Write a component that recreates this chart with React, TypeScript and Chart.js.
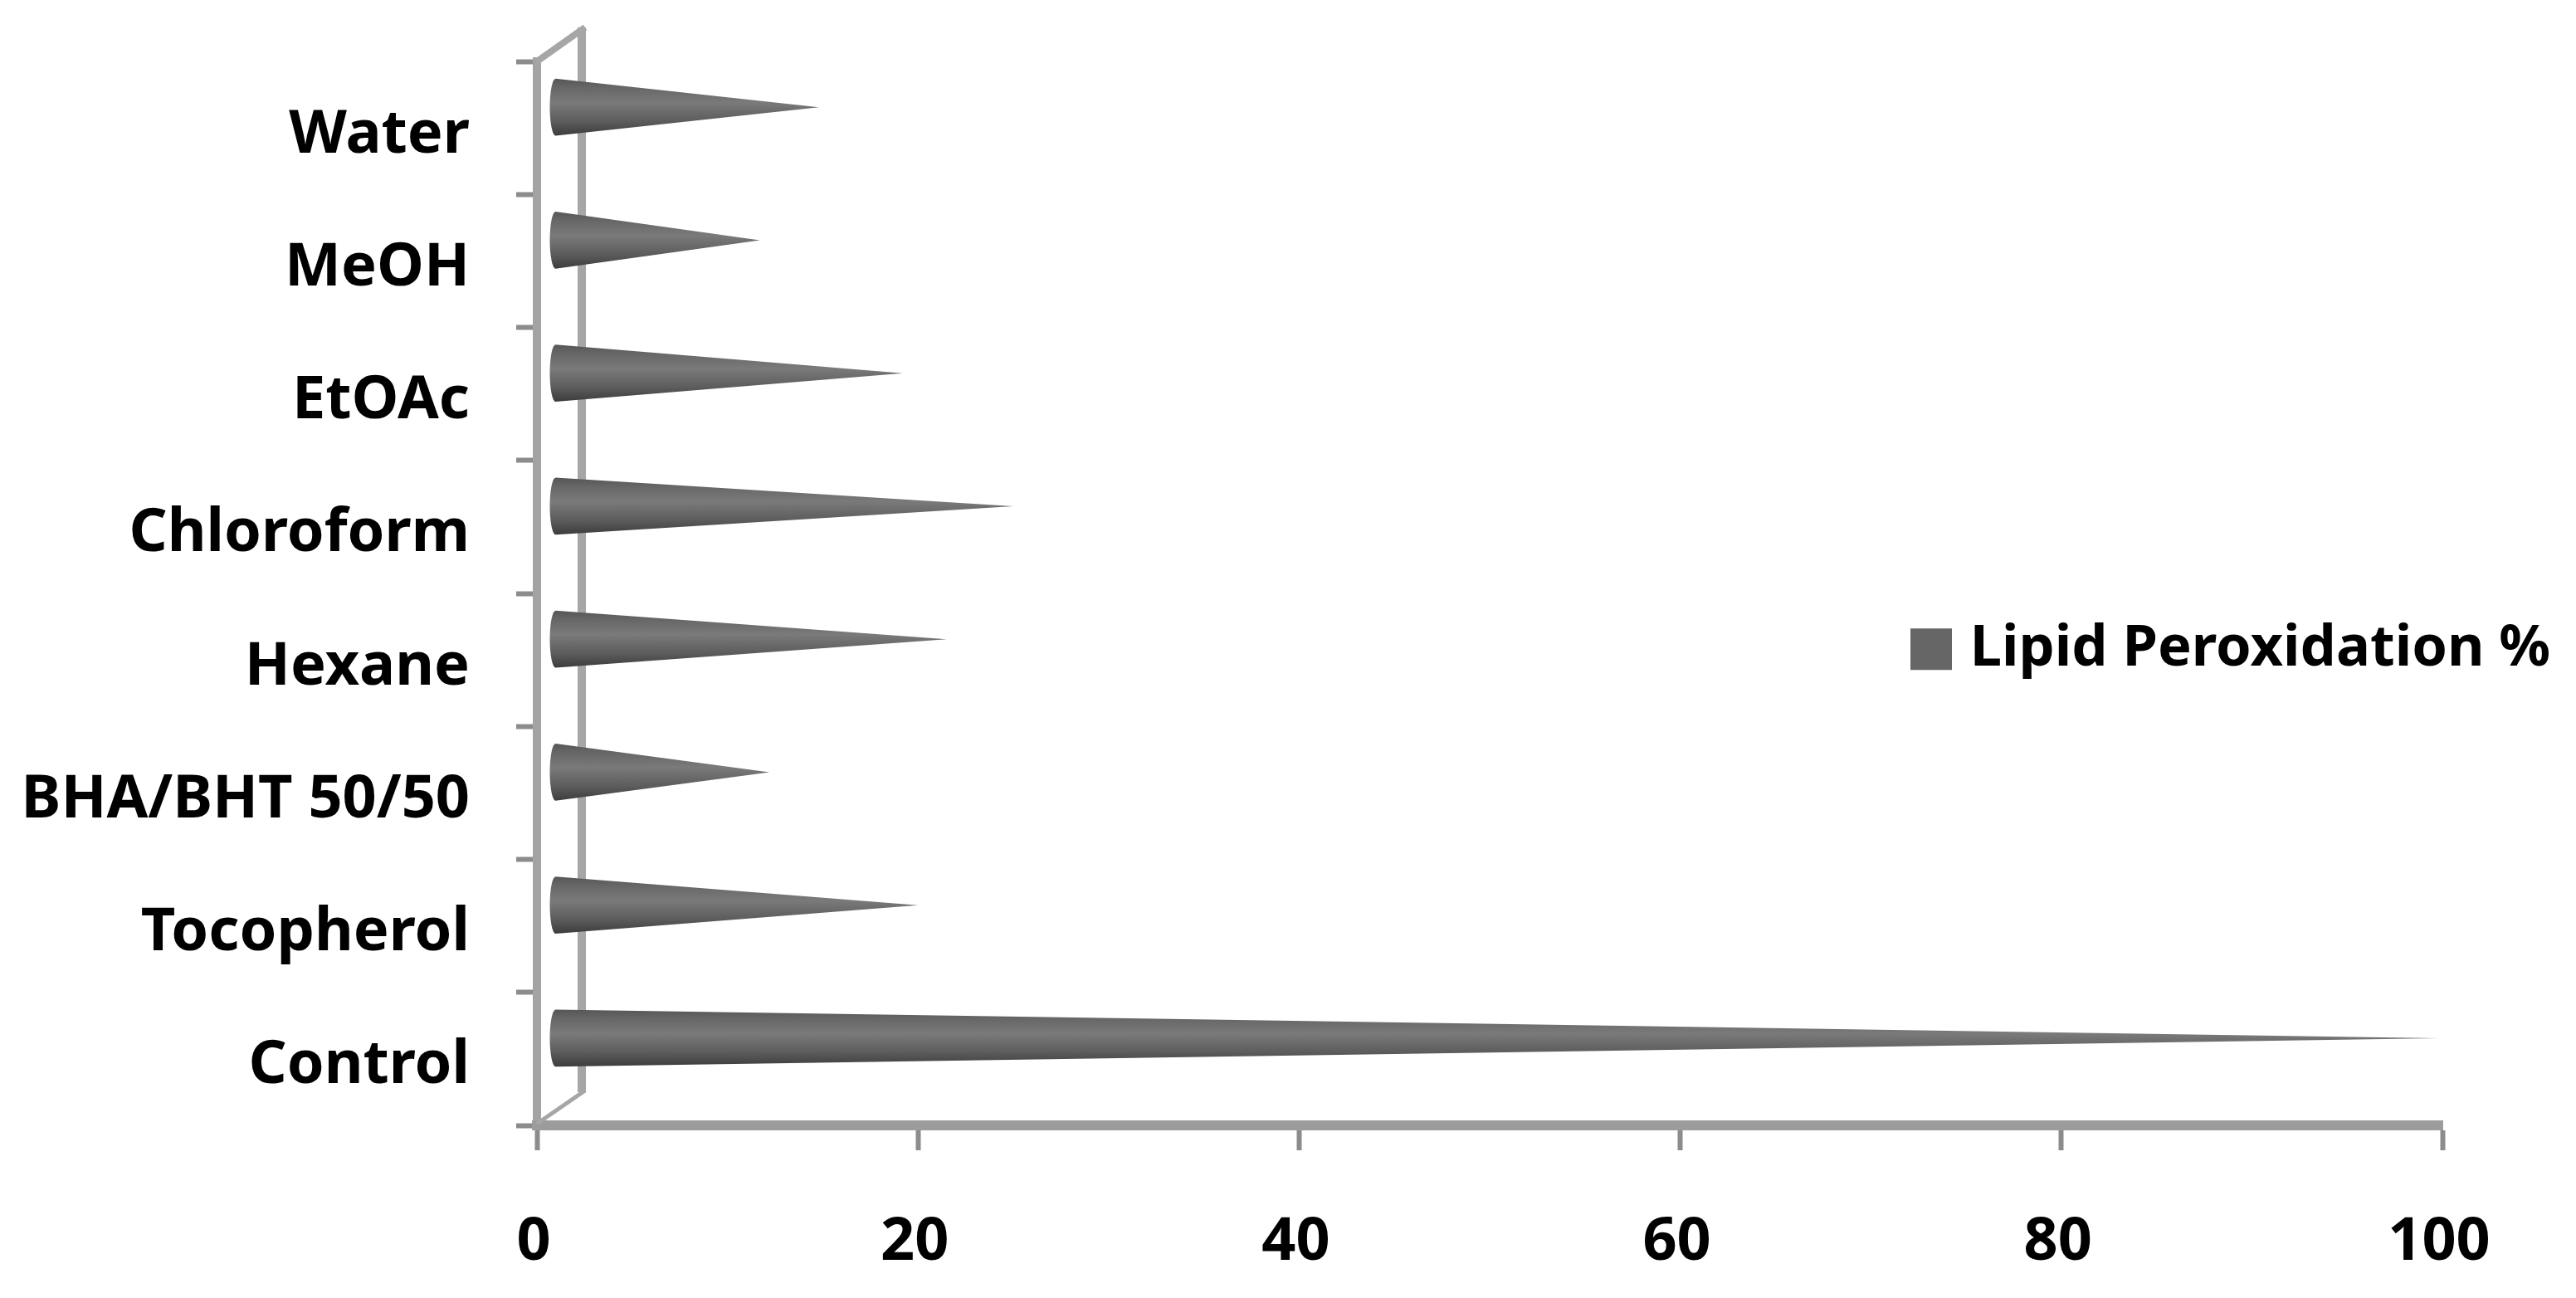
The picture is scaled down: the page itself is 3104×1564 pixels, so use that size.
import React, { useEffect, useRef } from "react";
import { Chart, BarController, BarElement, CategoryScale, LinearScale, Legend } from "chart.js";

const categories = ["Water", "MeOH", "EtOAc", "Chloroform", "Hexane", "BHA/BHT 50/50", "Tocopherol", "Control"];
const lipidPeroxidation = [14.8, 11.7, 19.2, 25, 21.5, 12.2, 20, 99.8];
const seriesName = "Lipid Peroxidation %";
const xTicksMax = 100;
const xTicksStep = 20;

const FONT = '"Noto Sans"';
const DEPTH_X = 16;
const DEPTH_Y = 25;

class ConeElement extends (BarElement as any) {
  static id = "cone";
  static defaults = { ...(BarElement as any).defaults };
  draw(ctx: CanvasRenderingContext2D) {
    const { x, y, base, height } = (this as any).getProps(["x", "y", "base", "height"]);
    const left = base + DEPTH_X;
    const cy = y - DEPTH_Y;
    const half = height / 2;
    const grad = ctx.createLinearGradient(0, cy - half, 0, cy + half);
    grad.addColorStop(0, "#565656");
    grad.addColorStop(0.15, "#666666");
    grad.addColorStop(0.42, "#7a7a7a");
    grad.addColorStop(0.75, "#5c5c5c");
    grad.addColorStop(1, "#3c3c3c");
    ctx.save();
    ctx.fillStyle = grad;
    ctx.beginPath();
    ctx.moveTo(x, cy);
    ctx.lineTo(left + 6, cy - half);
    ctx.ellipse(left + 6, cy, 7, half, 0, -Math.PI / 2, Math.PI / 2, true);
    ctx.closePath();
    ctx.fill();
    ctx.restore();
  }
}

class ConeController extends (BarController as any) {
  static id = "cone";
  static defaults = { ...(BarController as any).defaults, dataElementType: "cone" };
  static overrides = (BarController as any).overrides;
}

Chart.register(CategoryScale, LinearScale, Legend, BarController, BarElement, ConeElement as any, ConeController as any);

const wallPlugin = {
  id: "wall",
  afterLayout(chart: any) {
    const l = chart.legend;
    if (l) {
      l.left = 2294.5;
      l.right = 3104;
      l.top = 728;
      l.bottom = 830;
    }
    chart.scales.y.getLabelItems(chart.chartArea).forEach((item: any) => {
      item.options.translation[1] += 9;
    });
    chart.scales.x.getLabelItems(chart.chartArea).forEach((item: any) => {
      item.options.translation[0] -= 4;
    });
  },
  beforeDatasetsDraw(chart: any) {
    const { ctx, chartArea: a } = chart;
    const bx = a.left + 54;
    ctx.save();
    ctx.strokeStyle = "#a6a6a6";
    ctx.lineCap = "butt";
    ctx.lineWidth = 10;
    ctx.beginPath();
    ctx.moveTo(bx, a.top - 41);
    ctx.lineTo(bx, a.bottom - 40);
    ctx.stroke();
    ctx.lineWidth = 8;
    ctx.beginPath();
    ctx.moveTo(a.left, a.top);
    ctx.lineTo(bx + 4, a.top - 41);
    ctx.stroke();
    ctx.lineWidth = 5;
    ctx.beginPath();
    ctx.moveTo(a.left, a.bottom - 2);
    ctx.lineTo(bx + 4, a.bottom - 42);
    ctx.stroke();
    ctx.restore();
  },
};

export default function App() {
  const ref = useRef<HTMLCanvasElement>(null);
  useEffect(() => {
    const chart = new Chart(ref.current as HTMLCanvasElement, {
      type: "cone" as any,
      data: {
        labels: categories,
        datasets: [
          {
            label: seriesName,
            data: lipidPeroxidation,
            backgroundColor: "#666666",
            borderWidth: 0,
            categoryPercentage: 1,
            barPercentage: 0.43,
          } as any,
        ],
      },
      plugins: [wallPlugin],
      options: {
        indexAxis: "y",
        responsive: false,
        animation: false,
        layout: { padding: { left: 0, top: 74, right: 161, bottom: 0 } },
        plugins: {
          tooltip: { enabled: false },
          title: { display: false },
          legend: {
            display: true,
            position: "chartArea" as any,
            align: "start",
            labels: {
              boxWidth: 25,
              boxHeight: 25,
              padding: 20,
              color: "#000000",
              font: { family: FONT, size: 68.5, weight: "bold" },
              generateLabels: (chart: any) =>
                chart.data.datasets.map((d: any, i: number) => ({
                  text: d.label,
                  fillStyle: d.backgroundColor,
                  strokeStyle: d.backgroundColor,
                  lineWidth: 25,
                  fontColor: "#000000",
                  datasetIndex: i,
                })),
            },
          },
        },
        scales: {
          y: {
            type: "category",
            offset: true,
            afterFit: (s: any) => {
              s.width = 647;
              s.paddingTop = 0;
              s.paddingBottom = 0;
            },
            border: { display: true, color: "#a3a3a3", width: 10 },
            grid: {
              offset: true,
              drawOnChartArea: false,
              drawTicks: true,
              tickLength: 25,
              tickWidth: 6,
              tickColor: "#8c8c8c",
            },
            ticks: {
              color: "#000000",
              padding: 56,
              font: { family: FONT, size: 72, weight: "bold" },
            },
          },
          x: {
            type: "linear",
            min: 0,
            max: xTicksMax,
            afterFit: (s: any) => {
              s.height = 208;
            },
            border: { display: true, color: "#9c9c9c", width: 12 },
            grid: {
              drawOnChartArea: false,
              drawTicks: true,
              tickLength: 30,
              tickWidth: 6,
              tickColor: "#8c8c8c",
            },
            ticks: {
              stepSize: xTicksStep,
              maxRotation: 0,
              autoSkip: false,
              color: "#000000",
              padding: 68,
              font: { family: FONT, size: 72, weight: "bold" },
            },
          },
        },
      } as any,
    });
    return () => chart.destroy();
  }, []);
  return (
    <canvas
      ref={ref}
      width={3104}
      height={1564}
      style={{ position: "fixed", left: 0, top: 0, display: "block", background: "#ffffff" }}
    />
  );
}
